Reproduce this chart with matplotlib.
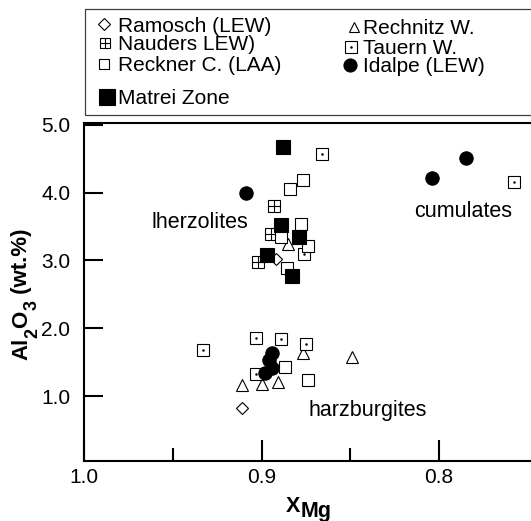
import numpy as np
import matplotlib.pyplot as plt
from matplotlib.patches import Rectangle

plt.rcParams['font.family'] = ['Liberation Sans', 'DejaVu Sans']

# X_Mg and Al2O3 (wt.%), one pair of lists per locality
ramosch_x = [0.892, 0.911]
ramosch_y = [3.02, 0.82]
nauders_x = [0.893, 0.895, 0.902]
nauders_y = [3.81, 3.39, 2.98]
reckner_x = [0.884, 0.877, 0.878, 0.889, 0.874, 0.886, 0.887, 0.874]
reckner_y = [4.06, 4.18, 3.53, 3.34, 3.21, 2.89, 1.43, 1.24]
matrei_x = [0.888, 0.889, 0.879, 0.897, 0.883]
matrei_y = [4.67, 3.52, 3.35, 3.08, 2.77]
rechnitz_x = [0.885, 0.877, 0.849, 0.911, 0.900, 0.891]
rechnitz_y = [3.24, 1.63, 1.58, 1.16, 1.18, 1.20]
tauern_x = [0.866, 0.876, 0.758, 0.933, 0.903, 0.889, 0.875, 0.903]
tauern_y = [4.57, 3.10, 4.15, 1.68, 1.85, 1.84, 1.76, 1.33]
idalpe_x = [0.909, 0.804, 0.785, 0.894, 0.896, 0.894, 0.898]
idalpe_y = [4.00, 4.22, 4.51, 1.63, 1.53, 1.41, 1.34]

x_ticks = [1.0, 0.9, 0.8]
x_minor = [0.95, 0.85]
x_ticklabels = ['1.0', '0.9', '0.8']
y_ticks = [1, 2, 3, 4, 5]
y_ticklabels = ['1.0', '2.0', '3.0', '4.0', '5.0']

W, H = 531, 521
fig = plt.figure(figsize=(W / 100, H / 100), dpi=100)

# marker styles: marker, size, face, overlay marker (or None)
styles = {
    'Rechnitz W.': dict(marker='^', ms=8.0, mfc='white', extra=None),
    'Tauern W.': dict(marker='s', ms=8.4, mfc='white', extra='dot'),
    'Nauders LEW)': dict(marker='s', ms=8.4, mfc='white', extra='+'),
    'Reckner C. (LAA)': dict(marker='s', ms=8.4, mfc='white', extra=None),
    'Ramosch (LEW)': dict(marker='D', ms=6.5, mfc='white', extra=None),
    'Idalpe (LEW)': dict(marker='o', ms=9.6, mfc='black', extra=None),
    'Matrei Zone': dict(marker='s', ms=9.6, mfc='black', extra=None),
}
groups = [
    ('Rechnitz W.', rechnitz_x, rechnitz_y),
    ('Tauern W.', tauern_x, tauern_y),
    ('Nauders LEW)', nauders_x, nauders_y),
    ('Reckner C. (LAA)', reckner_x, reckner_y),
    ('Ramosch (LEW)', ramosch_x, ramosch_y),
    ('Idalpe (LEW)', idalpe_x, idalpe_y),
    ('Matrei Zone', matrei_x, matrei_y),
]


def draw_marker(a, x, y, st, ms=None, z=3):
    ms = ms or st['ms']
    a.plot(x, y, ls='none', marker=st['marker'], ms=ms, mfc=st['mfc'],
           mec='black', mew=0.8, zorder=z, clip_on=False)
    if st['extra'] == '+':
        a.plot(x, y, ls='none', marker='+', ms=ms, mec='black', mew=0.8, zorder=z, clip_on=False)
    elif st['extra'] == 'dot':
        a.plot(x, y, ls='none', marker='o', ms=1.8, mfc='black', mec='black', mew=0, zorder=z, clip_on=False)


ax = fig.add_axes([84.3 / W, 1 - 460.7 / H, 1 - 84.3 / W, (460.7 - 123) / H])
for z, (name, xs, ys) in enumerate(groups):
    draw_marker(ax, xs, ys, styles[name], z=3 + z)

ax.set_xlim(1.0, 0.7482)
ax.set_ylim(0.046, 5.027)
ax.set_xticks(x_ticks)
ax.set_xticklabels(x_ticklabels)
ax.set_xticks(x_minor, minor=True)
ax.set_yticks(y_ticks)
ax.set_yticklabels(y_ticklabels)
ax.tick_params(axis='x', which='major', direction='in', length=15, width=1.5, labelsize=15, pad=5)
ax.tick_params(axis='x', which='minor', direction='in', length=9.5, width=1.5)
ax.tick_params(axis='y', which='major', direction='in', length=14, width=1.5, labelsize=15, pad=10)
ax.spines['right'].set_visible(False)
for s in ['left', 'bottom', 'top']:
    ax.spines[s].set_linewidth(1.5)

ax.text(0.962, 3.48, 'lherzolites', ha='left', va='baseline', fontsize=15.5)
ax.text(0.814, 3.645, 'cumulates', ha='left', va='baseline', fontsize=15.5)
ax.text(0.8737, 0.705, 'harzburgites', ha='left', va='baseline', fontsize=15.5)

# legend box drawn in pixel space of the figure
lg = fig.add_axes([0, 0, 1, 1], zorder=-1)
lg.set_xlim(0, W)
lg.set_ylim(H, 0)
lg.axis('off')
lg.add_patch(Rectangle((85, 9), 470, 106, fill=False, lw=0.9, ec='0.25'))
legend_rows = [
    ('Ramosch (LEW)', 104, 24, 118, 6.6),
    ('Nauders LEW)', 105, 42.5, 118, 7.7),
    ('Reckner C. (LAA)', 104, 63.5, 118, 7.2),
    ('Matrei Zone', 107, 97, 118, 11.3),
    ('Rechnitz W.', 354, 26.7, 363, 7.2),
    ('Tauern W.', 351, 46.5, 363, 8.4),
    ('Idalpe (LEW)', 350, 64.5, 363, 9.4),
]
for name, mx, my, tx, ms in legend_rows:
    draw_marker(lg, [mx], [my], styles[name], ms=ms)
    lg.text(tx, my + 7.5, name, ha='left', va='baseline', fontsize=15)


def stacked_label(pieces, x0, y0, vertical):
    # pieces: (text, size, drop in px below the baseline)
    r = fig.canvas.get_renderer()
    pos = 0.0
    for s, size, drop in pieces:
        if vertical:
            t = fig.text((x0 + drop) / W, (H - y0 + pos) / H, s, rotation=90,
                         rotation_mode='anchor', ha='left', va='baseline',
                         fontsize=size, fontweight='bold')
            pos += t.get_window_extent(r).height
        else:
            t = fig.text((x0 + pos) / W, (H - y0 - drop) / H, s, ha='left',
                         va='baseline', fontsize=size, fontweight='bold')
            pos += t.get_window_extent(r).width


stacked_label([('Al', 16, 0), ('2', 13, 10), ('O', 16, 0), ('3', 13, 10), (' (wt.%)', 16, 0)],
              27, 360, vertical=True)
stacked_label([('X', 15.5, 0), ('Mg', 15.5, 5)], 286, 512, vertical=False)

fig.savefig('out.png', dpi=100)
